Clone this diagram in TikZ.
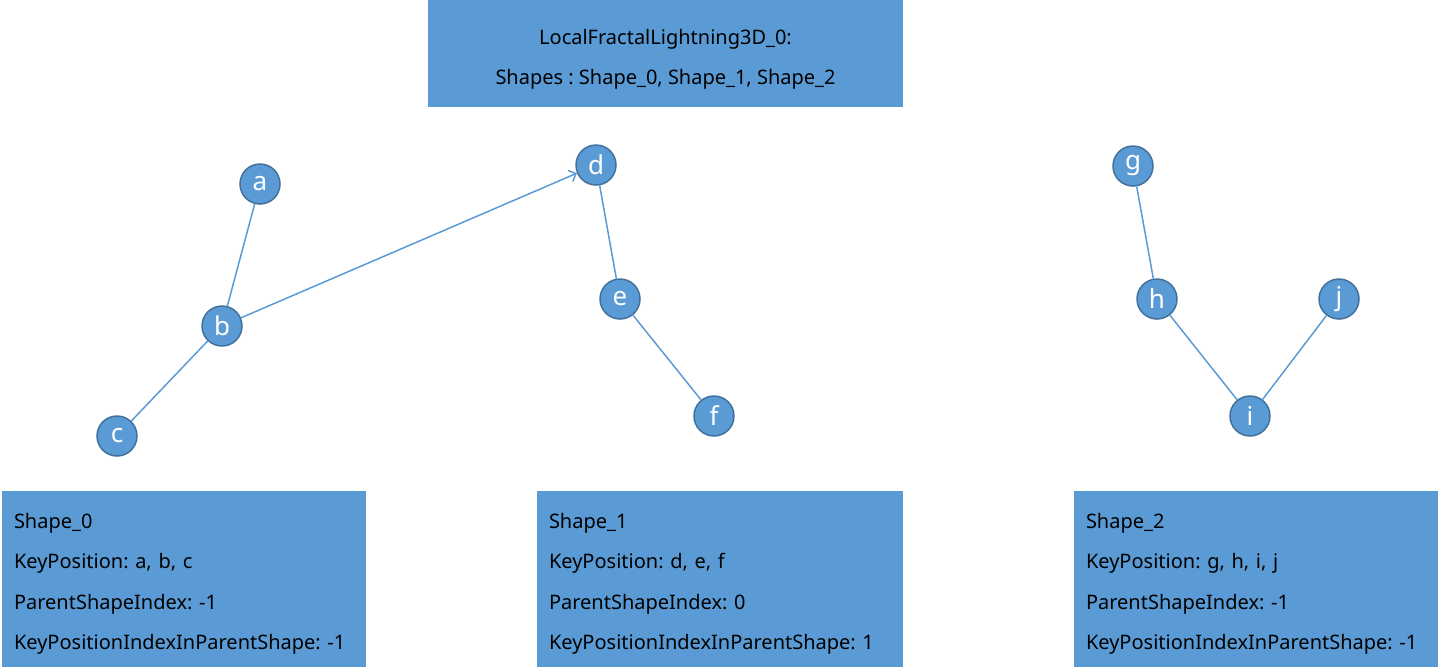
\documentclass[tikz,border=0pt]{standalone}
\usepackage{fontspec}
\setmainfont{Noto Sans}
\usepackage{tikz}
\usetikzlibrary{arrows.meta}
\frenchspacing

\definecolor{boxblue}{HTML}{5B9BD5}
\definecolor{rimblue}{HTML}{41719C}

\tikzset{
  keypt/.style={circle,fill=boxblue,draw=rimblue,line width=1.5pt,minimum size=40pt,inner sep=0pt,
    text=white,font=\fontsize{26}{26}\selectfont},
  link/.style={draw=boxblue,line width=1.5pt},
  infobox/.style={fill=boxblue,inner sep=0pt},
  boxtext/.style={inner sep=0pt,align=left,font=\fontsize{20}{40.5}\selectfont},
}

\begin{document}
\begin{tikzpicture}[x=1pt,y=-1pt]
                \useasboundingbox (0,0) rectangle (1440,670);
                % header
                \node[infobox,minimum width=475pt,minimum height=107pt] (head) at (665.5,53.5) {};
                \node[boxtext,align=center] (headtext) at ([yshift=-6pt]head.center)
                {LocalFractalLightning3D\_0:\\Shapes : Shape\_0, Shape\_1, Shape\_2};
                % shape 0
                \node[keypt] (a) at (260,184) {a};
                \node[keypt] (b) at (222,326) {b};
                \node[keypt] (c) at (117,436) {c};
                % shape 1
                \node[keypt] (d) at (596,165) {d};
                \node[keypt] (e) at (620,299) {e};
                \node[keypt] (f) at (714,416) {f};
                % shape 2
                \node[keypt] (g) at (1133,166) {g};
                \node[keypt] (h) at (1157,299) {h};
                \node[keypt] (i) at (1250,416) {i};
                \node[keypt] (j) at (1339,299) {j};
                \draw[link] (a) -- (b);
                \draw[link] (b) -- (c);
                \draw[link,-{Straight Barb[length=6pt,width=12pt]}] (b) -- (d);
                \draw[link] (d) -- (e);
                \draw[link] (e) -- (f);
                \draw[link] (g) -- (h);
                \draw[link] (h) -- (i);
                \draw[link] (i) -- (j);
                % info boxes
                \node[infobox,minimum width=364pt,minimum height=176pt] (info0) at (184,579) {};
                \node[infobox,minimum width=366pt,minimum height=176pt] (info1) at (720,579) {};
                \node[infobox,minimum width=364pt,minimum height=176pt] (info2) at (1256,579) {};
                \node[boxtext,text width=340pt] (text0) at ([yshift=-5pt]info0.center)
                {Shape\_0\\KeyPosition: a, b, c\\ParentShapeIndex: -1\\KeyPositionIndexInParentShape: -1};
                \node[boxtext,text width=342pt] (text1) at ([yshift=-5pt]info1.center)
                {Shape\_1\\KeyPosition: d, e, f\\ParentShapeIndex: 0\\KeyPositionIndexInParentShape: 1};
                \node[boxtext,text width=340pt] (text2) at ([yshift=-5pt]info2.center)
                {Shape\_2\\KeyPosition: g, h, i, j\\ParentShapeIndex: -1\\KeyPositionIndexInParentShape: -1};
            \end{tikzpicture}
\end{document}
